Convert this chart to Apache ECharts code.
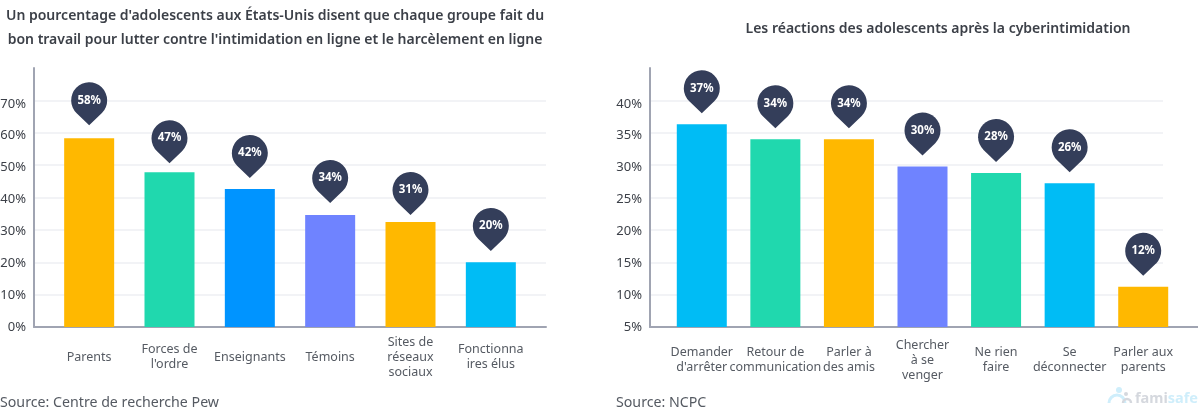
<!DOCTYPE html>
<html>
<head>
<meta charset="utf-8">
<script src="https://cdn.jsdelivr.net/npm/echarts@6/dist/echarts.min.js"></script>
<style>
html,body{margin:0;padding:0;background:#fff;}
#main{width:1198px;height:410px;}
</style>
</head>
<body>
<div id="main"></div>
<script>
var FONT = '"Noto Sans", sans-serif';

var leftCategories = ['Parents', "Forces de\nl'ordre", 'Enseignants', 'Témoins', 'Sites de\nréseaux\nsociaux', 'Fonctionna\nires élus'];
var leftValues = [58.3, 47.8, 42.6, 34.6, 32.4, 20];
var leftLabels = ['58%', '47%', '42%', '34%', '31%', '20%'];
var leftPinLevels = [58.9, 47.2, 42.6, 34.9, 31.2, 20.1]; // la pointe ne suit pas toujours la barre
var leftColors = ['#ffb800', '#20d8ae', '#0094ff', '#6f83ff', '#ffb800', '#00bcf5'];

var rightCategories = ["Demander\nd'arrêter", 'Retour de\ncommunication', 'Parler à\ndes amis', 'Chercher\nà se\nvenger', 'Ne rien\nfaire', 'Se\ndéconnecter', 'Parler aux\nparents'];
var rightValues = [36.3, 34, 34, 29.8, 28.8, 27.2, 11.2];
var rightLabels = ['37%', '34%', '34%', '30%', '28%', '26%', '12%'];
var rightColors = ['#00bcf5', '#20d8ae', '#ffb800', '#6f83ff', '#20d8ae', '#00bcf5', '#ffb800'];

// goutte : cercle + pointe, pointe vers le bas
var PIN = 'path://M18 43L5.5 31A18 18 0 1 1 30.5 31Z';

function barData(values, colors) {
	return values.map(function(v, i) {
		return {value: v, itemStyle: {color: colors[i]}};
	});
}
function pinData(values, labels) {
	return values.map(function(v, i) {
		return {value: [i, v], name: labels[i]};
	});
}
function xAxisCat(gridIndex, cats, nameCenter) {
	return {
		type: 'category', gridIndex: gridIndex, data: cats,
		axisLine: {show: false}, axisTick: {show: false},
		axisLabel: {
			interval: 0, margin: nameCenter, color: '#555a62', fontSize: 12.5,
			fontFamily: FONT, lineHeight: 15, verticalAlign: 'middle'
		}
	};
}
// axe vide, ne sert qu'a tracer le trait du bas
function xAxisLine(gridIndex, showLine) {
	return {
		type: 'value', gridIndex: gridIndex, min: 0, max: 1,
		axisLine: {show: showLine, onZero: false, lineStyle: {color: '#a0a4b2', width: 2}},
		axisTick: {show: false}, axisLabel: {show: false}, splitLine: {show: false}
	};
}
function yAxisTicks(gridIndex, min, max, step, showLine, showSplit, showLabel) {
	return {
		type: 'value', gridIndex: gridIndex, min: min, max: max, interval: step,
		axisLine: {show: showLine, onZero: false, lineStyle: {color: '#a0a4b2', width: 2}},
		axisTick: {show: false},
		axisLabel: {
			show: showLabel, color: '#3c4048', fontSize: 13, fontFamily: FONT, margin: 8,
			formatter: function(v) { return v >= max ? '' : v + '%'; }
		},
		splitLine: {show: showSplit, showMaxLine: false, lineStyle: {color: '#eeeff3', width: 1.5}}
	};
}
function barSeries(xi, yi, values, colors) {
	return {
		type: 'bar', xAxisIndex: xi, yAxisIndex: yi, barWidth: 50,
		data: barData(values, colors), silent: true, z: 3
	};
}
function pinSeries(xi, yi, values, labels) {
	return {
		type: 'scatter', xAxisIndex: xi, yAxisIndex: yi, z: 5, silent: true, clip: false,
		symbol: PIN, symbolSize: [36, 43], symbolOffset: [0, -32.5],
		itemStyle: {color: '#343e5a', opacity: 1},
		label: {
			show: true, position: 'inside', offset: [0, -3.5],
			formatter: '{b}', color: '#fff', fontSize: 11.5, fontWeight: 'bold', fontFamily: FONT
		},
		data: pinData(values, labels)
	};
}

var option = {
	animation: false,
	backgroundColor: '#fff',
	textStyle: {fontFamily: FONT},
	title: [
		{
			text: "Un pourcentage d'adolescents aux États-Unis disent que chaque groupe fait du\nbon travail pour lutter contre l'intimidation en ligne et le harcèlement en ligne",
			left: 275, top: 4, textAlign: 'center', padding: 0,
			textStyle: {color: '#3c4048', fontSize: 14, fontWeight: 600, fontFamily: FONT, lineHeight: 24}
		},
		{
			text: 'Les réactions des adolescents après la cyberintimidation',
			left: 938, top: 22, textAlign: 'center', padding: 0,
			textStyle: {color: '#3c4048', fontSize: 14, fontWeight: 600, fontFamily: FONT}
		},
		{
			text: 'Source: Centre de recherche Pew', left: 0, top: 396, padding: 0,
			textStyle: {color: '#555a62', fontSize: 14.2, fontWeight: 'normal', fontFamily: FONT}
		},
		{
			text: 'Source: NCPC', left: 616, top: 396, padding: 0,
			textStyle: {color: '#555a62', fontSize: 14.2, fontWeight: 'normal', fontFamily: FONT}
		},
		{
			text: '{a|fami}{b|safe}', left: 1135, top: 391, padding: 0,
			textStyle: {rich: {
				a: {color: '#d5d8de', fontSize: 14.5, fontWeight: 'bold', fontFamily: FONT},
				b: {color: '#cfeefb', fontSize: 14.5, fontWeight: 'bold', fontFamily: FONT}
			}}
		}
	],
	grid: [
		{left: 34, top: 68, width: 512, height: 259, outerBoundsMode: 'none'},   // gauche : axes et grille
		{left: 49, top: 68, width: 482, height: 259, outerBoundsMode: 'none'},   // gauche : barres
		{left: 650, top: 68, width: 548, height: 259, outerBoundsMode: 'none'},  // droite : axes
		{left: 650, top: 68, width: 513, height: 259, outerBoundsMode: 'none'},  // droite : grille
		{left: 665, top: 68, width: 515, height: 259, outerBoundsMode: 'none'},  // droite : barres
		// graduations un peu plus serrees que la grille dans l'original
		{left: 34, top: 72, width: 512, height: 255, outerBoundsMode: 'none'},
		{left: 650, top: 72, width: 513, height: 255, outerBoundsMode: 'none'}
	],
	xAxis: [
		xAxisLine(0, true),
		xAxisCat(1, leftCategories, 30),
		xAxisLine(2, true),
		xAxisLine(3, false),
		xAxisCat(4, rightCategories, 33),
		xAxisLine(5, false),
		xAxisLine(6, false)
	],
	yAxis: [
		yAxisTicks(0, 0, 80, 10, true, true, false),
		yAxisTicks(1, 0, 80, 10, false, false, false),
		yAxisTicks(2, 5, 45, 5, true, false, false),
		yAxisTicks(3, 5, 45, 5, false, true, false),
		yAxisTicks(4, 5, 45, 5, false, false, false),
		yAxisTicks(5, 0, 80, 10, false, false, true),
		yAxisTicks(6, 5, 45, 5, false, false, true)
	],
	series: [
		barSeries(1, 1, leftValues, leftColors),
		pinSeries(1, 1, leftPinLevels, leftLabels),
		barSeries(4, 4, rightValues, rightColors),
		pinSeries(4, 4, rightValues, rightLabels)
	],
	graphic: [
		{type: 'circle', shape: {cx: 1119, cy: 390, r: 3}, style: {fill: '#cfeefb'}, silent: true},
		{type: 'arc', shape: {cx: 1117, cy: 403, r: 8, startAngle: Math.PI, endAngle: Math.PI * 2}, style: {stroke: '#cfeefb', lineWidth: 3, fill: null}, silent: true},
		{type: 'circle', shape: {cx: 1126, cy: 394, r: 2}, style: {fill: '#d5d8de'}, silent: true},
		{type: 'arc', shape: {cx: 1127, cy: 403, r: 4, startAngle: Math.PI, endAngle: Math.PI * 2}, style: {stroke: '#d5d8de', lineWidth: 2.5, fill: null}, silent: true}
	]
};

var myChart = echarts.init(document.getElementById('main'), null, {renderer: 'canvas'});
myChart.setOption(option);
</script>
</body>
</html>
